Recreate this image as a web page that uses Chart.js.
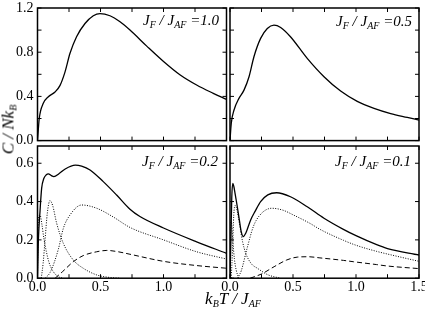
<!DOCTYPE html>
<html>
<head>
<meta charset="utf-8">
<script src="https://cdn.jsdelivr.net/npm/chart.js@4"></script>
<style>
body { margin: 0; background: #fff; }
#wrap { position: relative; width: 425px; height: 309px; overflow: hidden; font-family: "Liberation Serif", serif; color: #000; }
canvas { position: absolute; left: 0; top: 0; }
.lab { position: absolute; font-style: italic; font-size: 15px; line-height: 15px; white-space: nowrap; }
.lab sub, .ttl sub { font-size: 10px; vertical-align: -3px; line-height: 0; }
.ttl { position: absolute; font-style: italic; font-size: 17px; line-height: 17px; white-space: nowrap; text-align: center; }
</style>
</head>
<body>
<div id="wrap">
  <canvas id="c10" width="425" height="309"></canvas>
  <canvas id="c05" width="425" height="309"></canvas>
  <canvas id="c02" width="425" height="309"></canvas>
  <canvas id="c01" width="425" height="309"></canvas>
  <div class="lab" style="right:206px;top:13px">J<sub>F</sub> / J<sub>AF</sub> =1.0</div>
  <div class="lab" style="right:13px;top:14px">J<sub>F</sub> / J<sub>AF</sub> =0.5</div>
  <div class="lab" style="right:207px;top:154px">J<sub>F</sub> / J<sub>AF</sub> =0.2</div>
  <div class="lab" style="right:14px;top:154px">J<sub>F</sub> / J<sub>AF</sub> =0.1</div>
  <div class="ttl" style="left:-42px;top:121px;width:100px;transform:rotate(-90deg)">C / Nk<sub>B</sub></div>
  <div class="ttl" style="left:183px;top:290px;width:100px">k<sub>B</sub>T / J<sub>AF</sub></div>
</div>
<script>
// J_F / J_AF = 1.0
const tJ10 = [0, 0.014, 0.046, 0.086, 0.139, 0.179, 0.218, 0.258, 0.31, 0.377, 0.443, 0.496, 0.575, 0.655, 0.734, 0.867, 0.998, 1.13, 1.263, 1.395, 1.5];
const cJ10 = [0, 0.20, 0.337, 0.397, 0.44, 0.50, 0.62, 0.79, 0.94, 1.06, 1.13, 1.15, 1.13, 1.075, 1.0, 0.855, 0.718, 0.596, 0.503, 0.428, 0.373];

// J_F / J_AF = 0.5
const tJ05 = [0, 0.01, 0.032, 0.071, 0.111, 0.151, 0.19, 0.243, 0.296, 0.349, 0.402, 0.48, 0.613, 0.746, 0.878, 1.01, 1.143, 1.275, 1.407, 1.5];
const cJ05 = [0, 0.156, 0.277, 0.382, 0.457, 0.578, 0.759, 0.925, 1.015, 1.045, 1.024, 0.94, 0.744, 0.578, 0.448, 0.355, 0.292, 0.245, 0.21, 0.186];

// J_F / J_AF = 0.2 : total and components
const tJ02 = [0, 0.007, 0.02, 0.033, 0.05, 0.07, 0.086, 0.11, 0.13, 0.17, 0.22, 0.3, 0.35, 0.417, 0.522, 0.628, 0.734, 0.813, 1.0, 1.263, 1.5];
const cJ02 = [0, 0.2, 0.35, 0.47, 0.52, 0.54, 0.545, 0.535, 0.53, 0.545, 0.57, 0.59, 0.585, 0.565, 0.504, 0.434, 0.36, 0.322, 0.262, 0.19, 0.13];
const tJ02a = [0, 0.004, 0.01, 0.02, 0.035, 0.05, 0.07, 0.09, 0.12, 0.16, 0.2];
const cJ02a = [0, 0.22, 0.32, 0.33, 0.28, 0.21, 0.14, 0.085, 0.04, 0.01, 0];
const tJ02b = [0.03, 0.045, 0.06, 0.078, 0.099, 0.12, 0.152, 0.205, 0.284, 0.363, 0.47, 0.56, 0.65];
const cJ02b = [0, 0.08, 0.2, 0.34, 0.405, 0.38, 0.287, 0.182, 0.095, 0.052, 0.017, 0.005, 0];
const tJ02c = [0.06, 0.1, 0.165, 0.205, 0.258, 0.35, 0.47, 0.6, 0.734, 1.0, 1.263, 1.5];
const cJ02c = [0, 0.03, 0.15, 0.26, 0.33, 0.382, 0.365, 0.32, 0.265, 0.2, 0.138, 0.1];
const tJ02d = [0.14, 0.2, 0.284, 0.363, 0.47, 0.55, 0.64, 0.734, 1.0, 1.263, 1.5];
const cJ02d = [0, 0.035, 0.086, 0.118, 0.138, 0.145, 0.138, 0.125, 0.088, 0.066, 0.052];

// J_F / J_AF = 0.1 : total and components
const tJ01 = [0, 0.007, 0.014, 0.022, 0.03, 0.04, 0.058, 0.075, 0.09, 0.105, 0.125, 0.164, 0.2, 0.243, 0.3, 0.37, 0.48, 0.613, 0.746, 0.9, 1.0, 1.164, 1.25, 1.5];
const cJ01 = [0, 0.2, 0.42, 0.495, 0.48, 0.443, 0.373, 0.3, 0.24, 0.217, 0.235, 0.304, 0.35, 0.4, 0.435, 0.446, 0.425, 0.373, 0.313, 0.255, 0.222, 0.175, 0.155, 0.121];
const tJ01a = [0, 0.004, 0.008, 0.014, 0.022, 0.035, 0.05, 0.07];
const cJ01a = [0, 0.2, 0.3, 0.28, 0.2, 0.1, 0.04, 0];
const tJ01b = [0.01, 0.02, 0.03, 0.04, 0.05, 0.079, 0.1, 0.125, 0.17, 0.217, 0.3, 0.4];
const cJ01b = [0, 0.15, 0.33, 0.38, 0.37, 0.269, 0.19, 0.13, 0.075, 0.052, 0.018, 0];
const tJ01c = [0.06, 0.09, 0.132, 0.185, 0.238, 0.331, 0.42, 0.503, 0.635, 0.714, 0.9, 1.0, 1.164, 1.244, 1.5];
const cJ01c = [0, 0.04, 0.147, 0.269, 0.33, 0.365, 0.355, 0.33, 0.286, 0.255, 0.198, 0.172, 0.14, 0.127, 0.088];
const tJ01d = [0.16, 0.25, 0.35, 0.45, 0.534, 0.62, 0.714, 0.9, 0.98, 1.164, 1.244, 1.5];
const cJ01d = [0, 0.022, 0.06, 0.095, 0.11, 0.112, 0.106, 0.093, 0.086, 0.071, 0.064, 0.05];

const topYLabels = [0, 0.4, 0.8, 1.2];
const botYLabels = [0, 0.2, 0.4, 0.6];
const xLabelsLeft = [0, 0.5, 1.0];
const xLabelsRight = [0, 0.5, 1.0, 1.5];

const tickFont = { family: "Liberation Serif", size: 14 };

function pts(t, c) {
  return t.map((v, i) => ({ x: v, y: c[i] }));
}
function line(t, c, kind) {
  const ds = {
    data: pts(t, c),
    borderColor: "#000",
    borderWidth: 1,
    pointRadius: 0,
    fill: false,
    cubicInterpolationMode: "monotone",
  };
  if (kind === "solid") ds.borderWidth = 1.3;
  if (kind === "dot") ds.borderDash = [1, 1.5];
  if (kind === "dash") ds.borderDash = [5, 3];
  return ds;
}
function has(list, v) {
  return list.some((a) => Math.abs(a - v) < 1e-6);
}

// frame and inward ticks on all four sides
const frame = {
  id: "frame",
  afterDatasetsDraw(chart) {
    const { ctx, chartArea: a, scales } = chart;
    ctx.save();
    ctx.strokeStyle = "#000";
    ctx.lineWidth = 1;
    ctx.beginPath();
    scales.x.ticks.forEach((t) => {
      const p = scales.x.getPixelForValue(t.value);
      ctx.moveTo(p, a.bottom); ctx.lineTo(p, a.bottom - 4);
      ctx.moveTo(p, a.top); ctx.lineTo(p, a.top + 4);
    });
    scales.y.ticks.forEach((t) => {
      const p = scales.y.getPixelForValue(t.value);
      ctx.moveTo(a.left, p); ctx.lineTo(a.left + 4, p);
      ctx.moveTo(a.right, p); ctx.lineTo(a.right - 4, p);
    });
    ctx.stroke();
    ctx.lineWidth = 1.5;
    ctx.strokeRect(a.left, a.top, a.right - a.left, a.bottom - a.top);
    ctx.restore();
  },
};

function panel(id, area, yMax, yStep, yLabels, xLabels, datasets) {
  // axis boxes must hold their labels, or Chart.js clips them away
  const yw = yLabels.length ? area[0] : 0;
  const xh = xLabels.length ? 24 : 0;
  return new Chart(document.getElementById(id), {
    type: "line",
    data: { datasets: datasets },
    options: {
      responsive: false,
      animation: false,
      devicePixelRatio: 1,
      layout: { padding: { left: area[0] - yw, top: area[1], right: 425 - area[2], bottom: 309 - area[3] - xh } },
      plugins: { legend: { display: false }, tooltip: { enabled: false } },
      scales: {
        x: {
          type: "linear",
          min: 0,
          max: 1.5,
          grid: { display: false, drawTicks: false },
          border: { display: false },
          ticks: {
            stepSize: 0.25,
            autoSkip: false,
            maxRotation: 0,
            padding: 1,
            color: "#000",
            font: tickFont,
            display: xLabels.length > 0,
            callback: (v) => (has(xLabels, v) ? v.toFixed(1) : ""),
          },
          afterFit: (s) => { s.height = xh; s.paddingLeft = 0; s.paddingRight = 0; },
        },
        y: {
          min: 0,
          max: yMax,
          grid: { display: false, drawTicks: false },
          border: { display: false },
          ticks: {
            stepSize: yStep,
            autoSkip: false,
            padding: 4,
            color: "#000",
            font: tickFont,
            display: yLabels.length > 0,
            callback: (v) => (has(yLabels, v) ? v.toFixed(1) : ""),
          },
          afterBuildTicks: (s) => {
            s.ticks = s.ticks.filter((t) => Math.abs(t.value / yStep - Math.round(t.value / yStep)) < 1e-6);
          },
          afterFit: (s) => { s.width = yw; s.paddingTop = 0; s.paddingBottom = 0; },
        },
      },
    },
    plugins: [frame],
  });
}

panel("c10", [37.5, 8, 226.5, 140.6], 1.2, 0.2, topYLabels, [], [line(tJ10, cJ10, "solid")]);
panel("c05", [230, 8, 419, 140.6], 1.2, 0.2, [], [], [line(tJ05, cJ05, "solid")]);
panel("c02", [37.5, 146, 226.5, 278.2], 0.69, 0.2, botYLabels, xLabelsLeft, [
  line(tJ02, cJ02, "solid"),
  line(tJ02a, cJ02a, "dot"),
  line(tJ02b, cJ02b, "dot"),
  line(tJ02c, cJ02c, "dot"),
  line(tJ02d, cJ02d, "dash"),
]);
panel("c01", [230, 146, 419, 278.2], 0.69, 0.2, [], xLabelsRight, [
  line(tJ01, cJ01, "solid"),
  line(tJ01a, cJ01a, "dot"),
  line(tJ01b, cJ01b, "dot"),
  line(tJ01c, cJ01c, "dot"),
  line(tJ01d, cJ01d, "dash"),
]);
</script>
</body>
</html>
